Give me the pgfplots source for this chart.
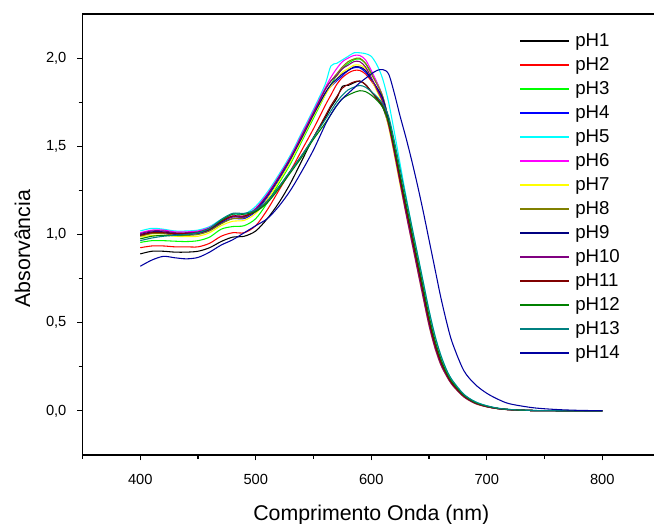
\documentclass[border=0pt]{standalone}
\usepackage{fontspec}
\setmainfont{Liberation Sans}
\usepackage{pgfplots}
\usepackage{pgfplotstable}
\pgfplotsset{compat=1.18}
\definecolor{phcolA}{RGB}{0,0,0}
\definecolor{phcolB}{RGB}{255,0,0}
\definecolor{phcolC}{RGB}{0,255,0}
\definecolor{phcolD}{RGB}{0,0,255}
\definecolor{phcolE}{RGB}{0,255,255}
\definecolor{phcolF}{RGB}{255,0,255}
\definecolor{phcolG}{RGB}{255,255,0}
\definecolor{phcolH}{RGB}{128,128,0}
\definecolor{phcolI}{RGB}{0,0,128}
\definecolor{phcolJ}{RGB}{128,0,128}
\definecolor{phcolK}{RGB}{128,0,0}
\definecolor{phcolL}{RGB}{0,128,0}
\definecolor{phcolM}{RGB}{0,128,128}
\definecolor{phcolN}{RGB}{0,0,160}
\pgfplotstableread{
lam p1 p2 p3 p4 p5 p6 p7 p8 p9 p10 p11 p12 p13 p14
400 0.89 0.925 0.955 0.995 1.02 1.01 0.985 0.99 1.0 1.005 0.995 0.975 0.965 0.82
410 0.905 0.935 0.965 1.01 1.035 1.025 0.995 1.005 1.015 1.02 1.01 0.99 0.98 0.855
420 0.905 0.935 0.965 1.01 1.03 1.025 0.995 1.005 1.015 1.02 1.01 0.995 0.99 0.876
430 0.90 0.93 0.962 1.0 1.02 1.015 0.99 0.995 1.005 1.01 1.005 0.995 0.995 0.868
440 0.90 0.93 0.96 1.0 1.02 1.015 0.988 0.995 1.005 1.01 1.005 1.0 1.0 0.862
450 0.905 0.93 0.965 1.005 1.025 1.02 0.99 1.0 1.01 1.015 1.01 1.01 1.01 0.87
460 0.925 0.95 0.985 1.025 1.045 1.04 1.01 1.02 1.03 1.035 1.03 1.035 1.035 0.90
470 0.96 0.99 1.03 1.065 1.085 1.08 1.05 1.06 1.07 1.075 1.075 1.08 1.085 0.94
480 0.985 1.01 1.045 1.09 1.115 1.105 1.075 1.09 1.10 1.10 1.105 1.115 1.12 0.97
490 0.99 1.01 1.05 1.09 1.115 1.105 1.08 1.095 1.10 1.10 1.105 1.115 1.12 1.01
500 1.02 1.05 1.09 1.13 1.16 1.15 1.12 1.14 1.14 1.145 1.13 1.13 1.14 1.05
510 1.09 1.14 1.18 1.21 1.24 1.23 1.20 1.22 1.22 1.225 1.19 1.18 1.19 1.09
520 1.18 1.25 1.29 1.31 1.34 1.33 1.30 1.32 1.32 1.325 1.27 1.26 1.27 1.16
530 1.29 1.36 1.40 1.42 1.45 1.44 1.41 1.43 1.43 1.435 1.36 1.35 1.36 1.25
540 1.42 1.48 1.53 1.55 1.58 1.57 1.54 1.56 1.55 1.56 1.45 1.44 1.45 1.36
550 1.55 1.60 1.66 1.68 1.71 1.70 1.67 1.69 1.68 1.69 1.55 1.54 1.55 1.48
560 1.66 1.73 1.79 1.80 1.85 1.83 1.79 1.82 1.80 1.82 1.67 1.63 1.65 1.62
565 1.72 1.79 1.85 1.84 1.955 1.89 1.84 1.87 1.85 1.87 1.73 1.68 1.70 1.68
570 1.77 1.85 1.90 1.87 1.97 1.94 1.88 1.91 1.88 1.90 1.78 1.73 1.75 1.73
575 1.84 1.89 1.94 1.90 1.99 1.98 1.92 1.95 1.91 1.94 1.83 1.77 1.79 1.77
580 1.845 1.915 1.97 1.93 2.01 2.0 1.94 1.98 1.93 1.96 1.85 1.79 1.82 1.80
585 1.86 1.93 1.99 1.945 2.03 2.015 1.96 1.995 1.95 1.98 1.865 1.805 1.835 1.83
590 1.87 1.93 1.995 1.945 2.03 2.015 1.96 2.0 1.95 1.98 1.87 1.815 1.845 1.86
595 1.85 1.91 1.97 1.92 2.025 1.99 1.94 1.97 1.93 1.95 1.85 1.81 1.835 1.885
600 1.81 1.87 1.92 1.88 2.01 1.93 1.88 1.91 1.88 1.89 1.81 1.79 1.81 1.91
605 1.77 1.82 1.86 1.83 1.96 1.86 1.81 1.85 1.83 1.82 1.77 1.76 1.78 1.93
610 1.72 1.76 1.78 1.77 1.88 1.78 1.74 1.78 1.77 1.75 1.73 1.72 1.74 1.935
615 1.62 1.64 1.65 1.65 1.75 1.65 1.61 1.65 1.65 1.62 1.63 1.64 1.67 1.91
620 1.48 1.49 1.49 1.49 1.58 1.49 1.45 1.49 1.49 1.46 1.48 1.50 1.53 1.80
625 1.31 1.32 1.32 1.32 1.40 1.32 1.28 1.32 1.32 1.29 1.31 1.34 1.37 1.67
630 1.15 1.15 1.16 1.15 1.22 1.15 1.12 1.15 1.15 1.12 1.15 1.18 1.21 1.55
635 0.99 0.99 1.00 0.99 1.05 0.99 0.96 0.99 0.99 0.96 0.99 1.02 1.05 1.42
640 0.83 0.83 0.84 0.83 0.89 0.83 0.80 0.83 0.83 0.80 0.83 0.86 0.89 1.28
645 0.67 0.67 0.68 0.67 0.73 0.67 0.64 0.67 0.67 0.64 0.67 0.70 0.73 1.13
650 0.51 0.51 0.52 0.51 0.57 0.51 0.485 0.51 0.51 0.485 0.51 0.54 0.57 0.97
655 0.38 0.38 0.39 0.38 0.43 0.38 0.36 0.38 0.38 0.36 0.38 0.405 0.43 0.81
660 0.28 0.28 0.285 0.28 0.32 0.28 0.265 0.28 0.28 0.265 0.28 0.30 0.32 0.65
665 0.21 0.21 0.212 0.21 0.235 0.21 0.20 0.21 0.21 0.20 0.21 0.22 0.235 0.51
670 0.155 0.155 0.157 0.155 0.175 0.155 0.148 0.155 0.155 0.148 0.155 0.165 0.175 0.39
680 0.085 0.085 0.087 0.085 0.095 0.085 0.08 0.085 0.085 0.08 0.085 0.09 0.095 0.23
690 0.045 0.045 0.046 0.045 0.052 0.045 0.042 0.045 0.045 0.042 0.045 0.048 0.052 0.15
700 0.025 0.025 0.025 0.025 0.029 0.025 0.023 0.025 0.025 0.023 0.025 0.027 0.029 0.10
710 0.013 0.013 0.013 0.013 0.015 0.013 0.012 0.013 0.013 0.012 0.013 0.014 0.015 0.065
720 0.007 0.007 0.007 0.007 0.008 0.007 0.0065 0.007 0.007 0.0065 0.007 0.0075 0.008 0.04
740 0.002 0.002 0.002 0.002 0.0025 0.002 0.002 0.002 0.002 0.002 0.002 0.002 0.0025 0.018
760 0.001 0.001 0.001 0.001 0.001 0.001 0.001 0.001 0.001 0.001 0.001 0.001 0.001 0.008
780 0 0 0 0 0 0 0 0 0 0 0 0 0 0.003
800 0 0 0 0 0 0 0 0 0 0 0 0 0 0.001
}\data
\begin{document}
\begin{tikzpicture}
\begin{axis}[
  scale only axis, width=433.1pt, height=330.75pt,
  xmin=350, xmax=850, ymin=-0.25, ymax=2.25,
  xtick={400,500,...,800}, minor xtick={350,450,...,750},
  ytick={0,0.5,1,1.5,2}, minor ytick={0.25,0.75,1.25,1.75},
  tick align=outside, xtick pos=bottom, ytick pos=left,
  major tick length=4pt, minor tick length=3pt,
  tick style={black, line width=0.8pt},
  axis line style={line width=1pt},
  /pgf/number format/assume math mode=true,
  tick label style={font=\fontsize{11pt}{13pt}\selectfont},
  xticklabel style={anchor=north, inner sep=0pt, yshift=-10.25pt},
  yticklabel style={anchor=east, inner sep=0pt, xshift=-7.9pt,
    /pgf/number format/fixed, /pgf/number format/fixed zerofill,
    /pgf/number format/precision=1, /pgf/number format/use comma},
  label style={font=\fontsize{16pt}{19pt}\selectfont},
  xlabel={Comprimento Onda (nm)},
  ylabel={Absorvância},
  xlabel style={at={(axis description cs:0.5,-0.1485)}, anchor=base},
  ylabel style={at={(axis description cs:-0.0909,0.468)}, anchor=base, rotate=0},
  legend style={at={(axis cs:728.2,2.16497)}, anchor=north west, draw=none, fill=none,
    inner sep=0pt, outer sep=0pt, row sep=0pt, column sep=3.7pt,
    font=\fontsize{14pt}{17pt}\selectfont,
    nodes={inner sep=0pt, text height=13.2pt, text depth=4.8pt}},
  legend cell align=left,
  legend image code/.code={\draw[#1, line width=1.5pt] (0pt,0pt) -- (36.75pt,0pt);},
  every axis plot/.append style={line width=0.8pt, smooth},
]
\addplot[color=phcolA] table[x=lam,y=p1]{\data}; \addlegendentry{pH1}
\addplot[color=phcolB] table[x=lam,y=p2]{\data}; \addlegendentry{pH2}
\addplot[color=phcolC] table[x=lam,y=p3]{\data}; \addlegendentry{pH3}
\addplot[color=phcolD] table[x=lam,y=p4]{\data}; \addlegendentry{pH4}
\addplot[color=phcolE] table[x=lam,y=p5]{\data}; \addlegendentry{pH5}
\addplot[color=phcolF] table[x=lam,y=p6]{\data}; \addlegendentry{pH6}
\addplot[color=phcolG] table[x=lam,y=p7]{\data}; \addlegendentry{pH7}
\addplot[color=phcolH] table[x=lam,y=p8]{\data}; \addlegendentry{pH8}
\addplot[color=phcolI] table[x=lam,y=p9]{\data}; \addlegendentry{pH9}
\addplot[color=phcolJ] table[x=lam,y=p10]{\data}; \addlegendentry{pH10}
\addplot[color=phcolK] table[x=lam,y=p11]{\data}; \addlegendentry{pH11}
\addplot[color=phcolL] table[x=lam,y=p12]{\data}; \addlegendentry{pH12}
\addplot[color=phcolM] table[x=lam,y=p13]{\data}; \addlegendentry{pH13}
\addplot[color=phcolN] table[x=lam,y=p14]{\data}; \addlegendentry{pH14}
\end{axis}
\pgfresetboundingbox
\path[use as bounding box] (current axis.south west) ++(-61.9pt,-51.75pt) rectangle ++(490.5pt,393pt);
\end{tikzpicture}
\end{document}
